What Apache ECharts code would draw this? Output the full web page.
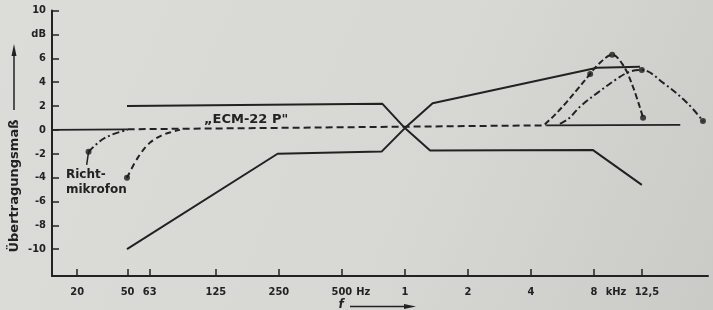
<!DOCTYPE html>
<html>
<head>
<meta charset="utf-8">
<title>Frequenzgang ECM-22 P</title>
<script src="https://cdn.jsdelivr.net/npm/echarts@6.0.0/dist/echarts.min.js"></script>
<style>
    html, body { margin: 0; padding: 0; background: #d8d9d5; }
    .echarts { width: 713px; height: 310px; }
</style>
</head>
<body>
<div class="echarts"></div>
<script>
// x in Oktaven bezogen auf 1 kHz (Lage), y in dB
var xTickPos = [-5.2, -4.4, -4.05, -3, -2, -1, 0, 1, 2, 3, 3.76];
var xLabelPos = [-5.2, -4.4, -4.05, -3, -2, -1, -0.66, 0, 1, 2, 3, 3.35, 3.84];
var xLabelText = ['20', '50', '63', '125', '250', '500', 'Hz', '1', '2', '4', '8', 'kHz', '12,5'];
var yTickPos = [-10, -8, -6, -4, -2, 0, 2, 4, 6, 8, 10];
var yLabelText = ['-10', '-8', '-6', '-4', '-2', '0', '2', '4', '6', 'dB', '10'];

// Toleranzfeld
var upperTol = [[-4.41, 2.0], [-0.36, 2.2], [0.0, 0.15], [0.44, 2.24], [3.05, 5.21], [3.73, 5.3]];
var lowerTol = [[-4.41, -10.0], [-2.02, -2.0], [-0.37, -1.82], [0.0, 0.15], [0.40, -1.73], [2.98, -1.68], [3.76, -4.61]];

// ECM-22 P und Nulllinie
var ecmLine = [[-4.40, 0.05], [2.25, 0.38]];
var baseLeft = [[-5.6, 0.0], [-4.40, 0.05]];
var baseRight = [[2.25, 0.38], [4.37, 0.42]];

// Richtmikrofon, Tiefen
var lowDashDot = [[-5.02, -1.84], [-4.84, -0.95], [-4.65, -0.4], [-4.40, 0.0]];
var lowDashed = [[-4.41, -4.02], [-4.24, -2.35], [-4.05, -1.09], [-3.84, -0.42], [-3.70, -0.17], [-3.57, 0.0]];

// Richtmikrofon, Höhen
var highDashed = [[2.22, 0.46], [2.38, 1.26], [2.57, 2.35], [2.73, 3.35], [2.94, 4.69], [3.06, 5.45], [3.29, 6.29], [3.46, 5.45], [3.62, 3.6], [3.78, 1.01]];
var highDashDot = [[2.46, 0.5], [2.6, 0.95], [2.78, 1.95], [3.05, 3.08], [3.38, 4.33], [3.57, 4.89], [3.76, 5.03], [4.10, 3.94], [4.48, 2.26], [4.73, 0.75]];

// Messpunkte
var dots = [[-5.02, -1.84], [-4.41, -4.02], [2.94, 4.69], [3.29, 6.29], [3.78, 1.01], [3.76, 5.03], [4.73, 0.75]];
var leader = [[-5.05, -2.93], [-5.02, -1.84]];

var ink = '#222222';
var tickFont = "'DejaVu Sans Condensed', 'Liberation Sans Narrow', 'DejaVu Sans', sans-serif";
var textFont = "'DejaVu Sans', 'Liberation Sans', sans-serif";

function lineSeries(data, type, width) {
    return {
        type: 'line',
        data: data,
        symbol: 'none',
        silent: true,
        lineStyle: { color: ink, width: width || 2, type: type || 'solid' },
        z: 3
    };
}

function curveSeries(data, type) {
    var s = lineSeries(data, type, 2);
    s.smooth = 0.35;
    return s;
}

var myChart = echarts.init(document.querySelector('.echarts'));
var option = {
    animation: false,
    backgroundColor: {
        type: 'linear', x: 0, y: 0, x2: 1, y2: 1,
        colorStops: [{ offset: 0, color: '#dcddd9' }, { offset: 0.6, color: '#d7d8d4' }, { offset: 1, color: '#cacbc7' }]
    },
    grid: { left: 52, right: 5, top: 10.6, bottom: 34 },
    xAxis: {
        type: 'value',
        min: -5.6,
        max: 4.81,
        splitLine: { show: false },
        axisLine: { onZero: false, lineStyle: { color: ink, width: 2 } },
        axisTick: { inside: true, length: 7, customValues: xTickPos, lineStyle: { color: ink, width: 1.5 } },
        axisLabel: {
            customValues: xLabelPos,
            margin: 11,
            color: ink,
            fontSize: 11,
            fontWeight: 'bold',
            fontFamily: tickFont,
            formatter: function(v) {
                var i = xLabelPos.indexOf(v);
                return i >= 0 ? xLabelText[i] : '';
            }
        }
    },
    yAxis: {
        type: 'value',
        min: -12.25,
        max: 10,
        splitLine: { show: false },
        axisLine: { onZero: false, lineStyle: { color: ink, width: 2 } },
        axisTick: { inside: true, length: 7, customValues: yTickPos, lineStyle: { color: ink, width: 1.5 } },
        axisLabel: {
            customValues: yTickPos,
            margin: 6,
            color: ink,
            fontSize: 11,
            fontWeight: 'bold',
            fontFamily: tickFont,
            formatter: function(v) {
                var i = yTickPos.indexOf(v);
                return i >= 0 ? yLabelText[i] : '';
            }
        }
    },
    series: [
        lineSeries(upperTol),
        lineSeries(lowerTol),
        lineSeries(ecmLine, [7, 4]),
        lineSeries(baseLeft, 'solid', 1.8),
        lineSeries(baseRight, 'solid', 1.8),
        lineSeries(leader, 'solid', 1.5),
        curveSeries(lowDashDot, [7, 3, 2, 3]),
        curveSeries(lowDashed, [6, 4]),
        curveSeries(highDashed, [6, 3]),
        curveSeries(highDashDot, [7, 3, 2, 3]),
        {
            type: 'scatter',
            data: dots,
            symbol: 'circle',
            symbolSize: 6,
            silent: true,
            itemStyle: { color: '#1a1a1a' },
            z: 4
        }
    ],
    graphic: [
        // Achsbeschriftung y
        {
            type: 'text', x: 15, y: 186, rotation: Math.PI / 2,
            style: { text: 'Übertragungsmaß', fill: ink, font: 'bold 13px ' + textFont, textAlign: 'center', textVerticalAlign: 'middle' }
        },
        { type: 'line', shape: { x1: 14, y1: 110, x2: 14, y2: 52 }, style: { stroke: ink, lineWidth: 1.5 } },
        { type: 'polygon', shape: { points: [[14, 44], [11.5, 56], [16.5, 56]] }, style: { fill: ink } },
        // Achsbeschriftung x
        {
            type: 'text', x: 341, y: 305,
            style: { text: 'f', fill: ink, font: 'italic bold 12px ' + textFont, textAlign: 'center', textVerticalAlign: 'middle' }
        },
        { type: 'line', shape: { x1: 350, y1: 306.5, x2: 406, y2: 306.5 }, style: { stroke: ink, lineWidth: 1.5 } },
        { type: 'polygon', shape: { points: [[416, 306.5], [404, 304], [404, 309]] }, style: { fill: ink } },
        // Kurvenbezeichnungen
        {
            type: 'text', x: 204, y: 120,
            style: { text: '„ECM-22 P"', fill: ink, font: 'bold 13px ' + textFont, textVerticalAlign: 'middle' }
        },
        {
            type: 'text', x: 66, y: 175,
            style: { text: 'Richt-', fill: ink, font: 'bold 12px ' + textFont, textVerticalAlign: 'middle' }
        },
        {
            type: 'text', x: 66, y: 190,
            style: { text: 'mikrofon', fill: ink, font: 'bold 12px ' + textFont, textVerticalAlign: 'middle' }
        }
    ]
};
myChart.setOption(option);
</script>
</body>
</html>
